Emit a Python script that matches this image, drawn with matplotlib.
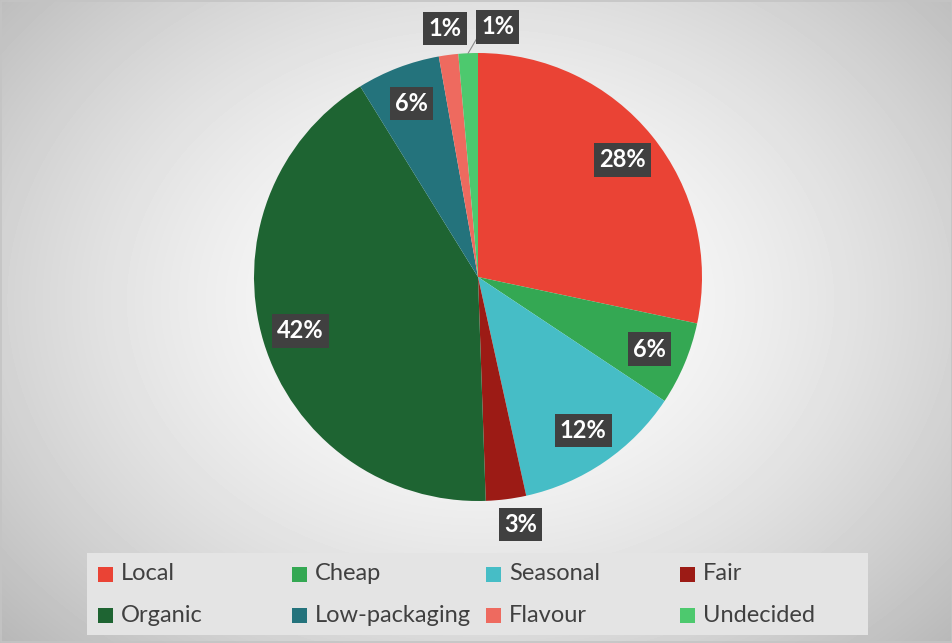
import numpy as np
import matplotlib.pyplot as plt
from matplotlib.patches import Rectangle

categories = ['Local', 'Cheap', 'Seasonal', 'Fair', 'Organic', 'Low-packaging', 'Flavour', 'Undecided']
shares = [28.3, 6.0, 12.2, 2.9, 41.7, 6.0, 1.4, 1.4]
colors = ['#EA4335', '#34A853', '#46BDC6', '#9C1B15', '#1E6432', '#24737C', '#EE6A5F', '#4DC96E']

W, H = 953, 643
fig = plt.figure(figsize=(W / 100, H / 100), dpi=100)

# radial grey background
bg = fig.add_axes([0, 0, 1, 1], zorder=-10)
yy, xx = np.mgrid[0:H, 0:W]
d = np.hypot((xx - 480) / 560, (yy - 300) / 430)
shade = 1.0 - 0.22 * np.clip(d, 0, 1.2) ** 1.6
bg.imshow(shade, cmap='gray', vmin=0, vmax=1, aspect='auto', extent=[0, W, H, 0])
bg.set_xlim(0, W)
bg.set_ylim(H, 0)
bg.add_patch(Rectangle((0.5, 0.5), W - 1.5, H - 1.5, fill=False, ec='#c4c4c4', lw=1.2))
bg.axis('off')

# pie axes: centre (478, 277) px, radius 224 px
cx, cy, r = 478, 277, 224
ax = fig.add_axes([(cx - r) / W, (H - cy - r) / H, 2 * r / W, 2 * r / H])
wedges, texts, autotexts = ax.pie(
    shares, colors=colors, startangle=90, counterclock=False, radius=1,
    autopct='%.0f%%', pctdistance=0.83,
    wedgeprops=dict(linewidth=0),
    textprops=dict(color='white', fontsize=17, fontweight='bold', family='Lato'))
ax.set_xlim(-1, 1)
ax.set_ylim(-1, 1)
ax.set_aspect('auto')
ax.axis('off')

for i, t in enumerate(autotexts):
    t.set_bbox(dict(boxstyle='square,pad=0.22', fc='#404040', ec='none'))
    w = wedges[i]
    mid = np.deg2rad((w.theta1 + w.theta2) / 2)
    if shares[i] < 4:
        ang = mid
        if categories[i] == 'Fair':
            ang = mid + np.deg2rad(2.5)
        if categories[i] == 'Undecided':
            ang = mid - np.deg2rad(7)
            lx, ly = 1.12 * np.cos(ang), 1.12 * np.sin(ang)
            ax.plot([np.cos(mid), lx - 0.08], [np.sin(mid), ly - 0.03],
                    color='#8a8a8a', lw=0.8, clip_on=False)
        t.set_position((1.12 * np.cos(ang), 1.12 * np.sin(ang)))

# legend box, 4 columns x 2 rows
bg.add_patch(Rectangle((87, 553), 781, 82, fc='#e4e4e4', ec='none'))
for i, name in enumerate(categories):
    col, row = i % 4, i // 4
    x0 = 98 + 194 * col
    y0 = 574 + 41 * row
    bg.add_patch(Rectangle((x0, y0 - 7.5), 15, 15, fc=colors[i], ec='none'))
    bg.text(x0 + 23, y0, name, fontsize=17, family='Lato', color='#404040',
            va='center', ha='left')

fig.savefig('out.png', dpi=100)
